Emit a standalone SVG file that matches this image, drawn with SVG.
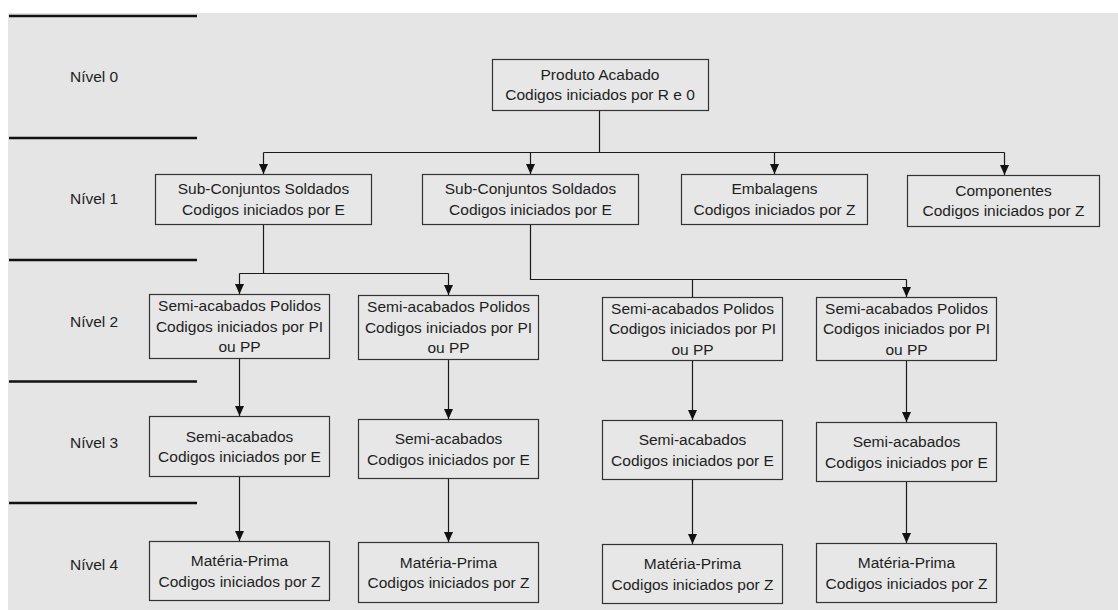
<svg xmlns="http://www.w3.org/2000/svg" width="1118" height="610" viewBox="0 0 1118 610">
  <style>
    .bg { fill: #e5e5e5; }
    .sep { stroke: #111; stroke-width: 2.5; }
    .box rect { fill: #e7e7e7; stroke: #333; stroke-width: 1.2; }
    text { font-family: "Liberation Sans", Arial, sans-serif; font-size: 15.5px; fill: #1e1e1e; }
    .box text { text-anchor: middle; }
    .wire { fill: none; stroke: #1a1a1a; stroke-width: 1.2; }
  </style>
  <defs>
    <marker id="arrow" markerUnits="userSpaceOnUse" markerWidth="10" markerHeight="9" viewBox="0 0 10 9" refX="10" refY="4.5" orient="auto">
      <path d="M0,0 L10,4.5 L0,9 z" fill="#111"/>
    </marker>
  </defs>

  <!-- canvas -->
  <rect class="bg" x="8" y="13" width="1110" height="597"/>

  <!-- level bands -->
  <g id="levels">
    <line class="sep" x1="9" y1="16" x2="197" y2="16"/>
    <line class="sep" x1="9" y1="138" x2="197" y2="138"/>
    <line class="sep" x1="9" y1="260" x2="197" y2="260"/>
    <line class="sep" x1="9" y1="381.5" x2="197" y2="381.5"/>
    <line class="sep" x1="9" y1="503" x2="197" y2="503"/>
    <text x="70" y="81.5">Nível 0</text>
    <text x="70" y="203.5">Nível 1</text>
    <text x="70" y="326.5">Nível 2</text>
    <text x="70" y="448">Nível 3</text>
    <text x="70" y="569.5">Nível 4</text>
  </g>

  <!-- connectors -->
  <g id="connectors">
    <path class="wire" d="M599.5,110 V152.5"/>
    <path class="wire" d="M263.5,152.5 H1004.5"/>
    <path class="wire" d="M263.5,152.5 V174" marker-end="url(#arrow)"/>
    <path class="wire" d="M530.5,152.5 V174" marker-end="url(#arrow)"/>
    <path class="wire" d="M774.5,152.5 V174" marker-end="url(#arrow)"/>
    <path class="wire" d="M1004.5,152.5 V175" marker-end="url(#arrow)"/>

    <path class="wire" d="M263.5,224 V273.5"/>
    <path class="wire" d="M239.5,273.5 H448.5"/>
    <path class="wire" d="M239.5,273.5 V294" marker-end="url(#arrow)"/>
    <path class="wire" d="M448.5,273.5 V295" marker-end="url(#arrow)"/>

    <path class="wire" d="M530.5,224 V279.5 H906.5"/>
    <path class="wire" d="M692.5,279.5 V297"/>
    <path class="wire" d="M906.5,279.5 V297" marker-end="url(#arrow)"/>

    <path class="wire" d="M239.5,358 V416" marker-end="url(#arrow)"/>
    <path class="wire" d="M239.5,476 V541" marker-end="url(#arrow)"/>
    <path class="wire" d="M448.5,359 V419" marker-end="url(#arrow)"/>
    <path class="wire" d="M448.5,478 V542" marker-end="url(#arrow)"/>
    <path class="wire" d="M692.5,360 V420" marker-end="url(#arrow)"/>
    <path class="wire" d="M692.5,479 V544" marker-end="url(#arrow)"/>
    <path class="wire" d="M906.5,360 V422" marker-end="url(#arrow)"/>
    <path class="wire" d="M906.5,481 V543" marker-end="url(#arrow)"/>
  </g>

  <!-- level 0 -->
  <g id="produto-acabado" class="box">
    <rect x="492.5" y="59.5" width="216" height="51"/>
    <text x="600" y="79.5">Produto Acabado</text>
    <text x="600" y="100">Codigos iniciados por R e 0</text>
  </g>

  <!-- level 1 -->
  <g id="sub-conjuntos-a" class="box">
    <rect x="155.5" y="174.5" width="216" height="50"/>
    <text x="263.5" y="194">Sub-Conjuntos Soldados</text>
    <text x="263.5" y="214.5">Codigos iniciados por E</text>
  </g>
  <g id="sub-conjuntos-b" class="box">
    <rect x="422.5" y="174.5" width="216" height="50"/>
    <text x="530.5" y="194">Sub-Conjuntos Soldados</text>
    <text x="530.5" y="214.5">Codigos iniciados por E</text>
  </g>
  <g id="embalagens" class="box">
    <rect x="681.5" y="174.5" width="186" height="50"/>
    <text x="774.5" y="194">Embalagens</text>
    <text x="774.5" y="214.5">Codigos iniciados por Z</text>
  </g>
  <g id="componentes" class="box">
    <rect x="907.5" y="175.5" width="192" height="51"/>
    <text x="1003.5" y="195.5">Componentes</text>
    <text x="1003.5" y="216">Codigos iniciados por Z</text>
  </g>

  <!-- level 2 -->
  <g id="polidos-a" class="box">
    <rect x="149.5" y="294.5" width="180" height="64"/>
    <text x="239.5" y="311">Semi-acabados Polidos</text>
    <text x="239.5" y="331.5">Codigos iniciados por PI</text>
    <text x="239.5" y="352">ou PP</text>
  </g>
  <g id="polidos-b" class="box">
    <rect x="358.5" y="295.5" width="180" height="64"/>
    <text x="448.5" y="312">Semi-acabados Polidos</text>
    <text x="448.5" y="332.5">Codigos iniciados por PI</text>
    <text x="448.5" y="353">ou PP</text>
  </g>
  <g id="polidos-c" class="box">
    <rect x="602.5" y="297.5" width="180" height="63"/>
    <text x="692.5" y="313.5">Semi-acabados Polidos</text>
    <text x="692.5" y="334">Codigos iniciados por PI</text>
    <text x="692.5" y="354.5">ou PP</text>
  </g>
  <g id="polidos-d" class="box">
    <rect x="816.5" y="297.5" width="180" height="63"/>
    <text x="906.5" y="313.5">Semi-acabados Polidos</text>
    <text x="906.5" y="334">Codigos iniciados por PI</text>
    <text x="906.5" y="354.5">ou PP</text>
  </g>

  <!-- level 3 -->
  <g id="semi-acabados-a" class="box">
    <rect x="149.5" y="416.5" width="180" height="60"/>
    <text x="239.5" y="441.5">Semi-acabados</text>
    <text x="239.5" y="462">Codigos iniciados por E</text>
  </g>
  <g id="semi-acabados-b" class="box">
    <rect x="358.5" y="419.5" width="180" height="59"/>
    <text x="448.5" y="444">Semi-acabados</text>
    <text x="448.5" y="464.5">Codigos iniciados por E</text>
  </g>
  <g id="semi-acabados-c" class="box">
    <rect x="602.5" y="420.5" width="180" height="59"/>
    <text x="692.5" y="445">Semi-acabados</text>
    <text x="692.5" y="465.5">Codigos iniciados por E</text>
  </g>
  <g id="semi-acabados-d" class="box">
    <rect x="816.5" y="422.5" width="180" height="59"/>
    <text x="906.5" y="447">Semi-acabados</text>
    <text x="906.5" y="467.5">Codigos iniciados por E</text>
  </g>

  <!-- level 4 -->
  <g id="materia-prima-a" class="box">
    <rect x="149.5" y="541.5" width="180" height="59"/>
    <text x="239.5" y="566">Matéria-Prima</text>
    <text x="239.5" y="586.5">Codigos iniciados por Z</text>
  </g>
  <g id="materia-prima-b" class="box">
    <rect x="358.5" y="542.5" width="180" height="60"/>
    <text x="448.5" y="567.5">Matéria-Prima</text>
    <text x="448.5" y="588">Codigos iniciados por Z</text>
  </g>
  <g id="materia-prima-c" class="box">
    <rect x="602.5" y="544.5" width="180" height="59"/>
    <text x="692.5" y="569">Matéria-Prima</text>
    <text x="692.5" y="589.5">Codigos iniciados por Z</text>
  </g>
  <g id="materia-prima-d" class="box">
    <rect x="816.5" y="543.5" width="180" height="59"/>
    <text x="906.5" y="568">Matéria-Prima</text>
    <text x="906.5" y="588.5">Codigos iniciados por Z</text>
  </g>
</svg>
